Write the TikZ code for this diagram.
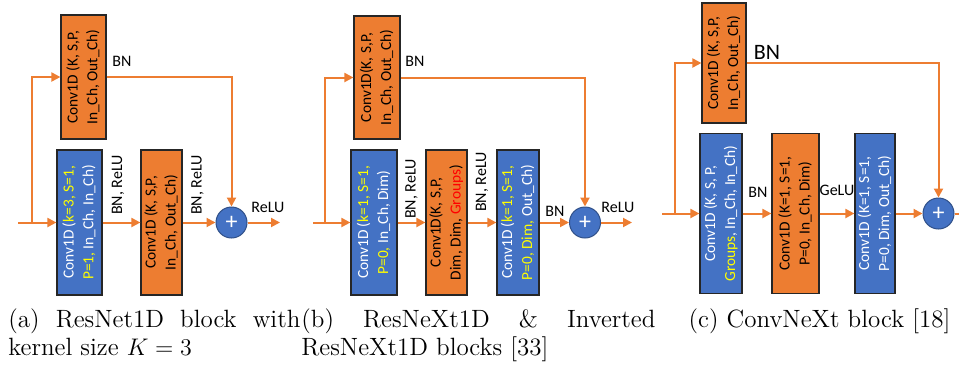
\documentclass[tikz,border=0pt]{standalone}
\usepackage{fontspec}
\usepackage{graphicx}
\usetikzlibrary{arrows.meta,positioning}
\newfontfamily\calib{Carlito}
\definecolor{orng}{HTML}{ED7D31}
\definecolor{blu}{HTML}{4472C4}
\definecolor{yel}{HTML}{FFFF00}
\newcommand{\yl}[1]{\textcolor{yel}{#1}}
\newcommand{\vtxt}[2]{\rotatebox{90}{\begin{tabular}{@{}c@{}}#1\\#2\end{tabular}}}

\begin{document}
\begin{tikzpicture}[
  x=0.5pt, y=-0.5pt,
  box/.style={draw=black!85, line width=0.6pt, inner sep=0pt, align=center,
    font=\calib\fontsize{7.7}{10}\selectfont},
  obox/.style={box, fill=orng, text=black},
  bbox/.style={box, fill=blu, text=white},
  add/.style={circle, fill=blu, draw=blu!70!black, line width=0.5pt, minimum size=15.5pt,
    inner sep=0pt, text=white, font=\calib\fontsize{12}{12}\selectfont},
  lbl/.style={inner sep=0pt, font=\calib\fontsize{8}{9.6}\selectfont},
  captxt/.style={inner sep=0pt, font=\fontsize{12.5}{14}\selectfont},
  arr/.style={-{Triangle[length=4.5pt,width=4.5pt]}, draw=orng, line width=1pt},
  ln/.style={draw=orng, line width=1pt}
]
\useasboundingbox (0,0) rectangle (959,365);

% (a) ResNet1D
\node[obox, minimum width=22.5pt, minimum height=62pt] (ta) at (83.5,77) {\vtxt{Conv1D (K, S,P,}{In\_Ch, Out\_Ch)}};
\node[bbox, minimum width=22.5pt, minimum height=72.5pt] (ba) at (79.5,222.5) {\vtxt{Conv1D (\yl{k=3, S=1,}}{\yl{P=1,} In\_Ch, In\_Ch)}};
\node[obox, minimum width=20.5pt, minimum height=72.5pt] (oa) at (161.5,222.5) {\vtxt{Conv1D (K, S,P,}{In\_Ch, Out\_Ch)}};
\node[add] (pa) at (231.5,222.5) {+};
\coordinate (ina) at (18,222.5);
\coordinate (ja) at (32,222.5);
\coordinate (outa) at (280,222.5);
\draw[arr] (ina) -- (ba.west);
\draw[arr] (ja) |- (ta.west);
\draw[arr] (ba) -- (oa);
\draw[arr] (oa) -- (pa);
\draw[arr] (ta.east) -- (ta.east -| pa) -- (pa.north);
\draw[arr] (pa) -- (outa);
\node[lbl] at (122,61) {BN};
\node[lbl, rotate=90] at (118,185) {BN, ReLU};
\node[lbl, rotate=90] at (197.5,185) {BN, ReLU};
\node[lbl] at (268,207) {ReLU};

% (b) ResNeXt1D
\node[obox, minimum width=23pt, minimum height=61.5pt] (tb) at (377,77.5) {\vtxt{Conv1D(K, S,P,}{In\_Ch, Out\_Ch)}};
\node[bbox, minimum width=23pt, minimum height=72.5pt] (b1) at (374,222.5) {\vtxt{Conv1D (\yl{k=1, S=1,}}{\yl{P=0,} In\_Ch, Dim)}};
\node[obox, minimum width=20.5pt, minimum height=72.5pt] (b2) at (446.5,222.5) {\vtxt{Conv1D(K, S,P,}{Dim, Dim, \textcolor{red}{Groups})}};
\node[bbox, minimum width=21pt, minimum height=72.5pt] (b3) at (518,222.5) {\vtxt{Conv1D (\yl{k=1, S=1,}}{\yl{P=0, Dim,} Out\_Ch)}};
\node[add] (pb) at (585,222.5) {+};
\coordinate (inb) at (313,222.5);
\coordinate (jb) at (325,222.5);
\coordinate (outb) at (632,222.5);
\draw[arr] (inb) -- (b1.west);
\draw[arr] (jb) |- (tb.west);
\draw[arr] (b1) -- (b2);
\draw[arr] (b2) -- (b3);
\draw[arr] (b3) -- (pb);
\draw[arr] (tb.east) -- (tb.east -| pb) -- (pb.north);
\draw[arr] (pb) -- (outb);
\node[lbl] at (415,61) {BN};
\node[lbl, rotate=90] at (411.5,189) {BN, ReLU};
\node[lbl, rotate=90] at (482,182) {BN, ReLU};
\node[lbl] at (555,211) {BN};
\node[lbl] at (618,207) {ReLU};

% (c) ConvNeXt
\node[obox, minimum width=22pt, minimum height=60pt] (tc) at (724,63) {\vtxt{Conv1D (K, S,P,}{In\_Ch, Out\_Ch)}};
\node[bbox, minimum width=21pt, minimum height=80pt] (c1) at (721,213.5) {\vtxt{Conv1D (K, S, P,}{\yl{Groups}, In\_Ch, In\_Ch)}};
\node[obox, minimum width=23.5pt, minimum height=80pt] (c2) at (795.5,213.5) {\vtxt{Conv1D (K=1, S=1,}{P=0, In\_Ch, Dim)}};
\node[bbox, minimum width=20pt, minimum height=80pt] (c3) at (875,213.5) {\vtxt{Conv1D (K=1, S=1,}{P=0, Dim, Out\_Ch)}};
\node[add] (pc) at (938.5,213.5) {+};
\coordinate (inc) at (662,213.5);
\coordinate (jc) at (675,213.5);
\coordinate (outc) at (959,213.5);
\draw[arr] (inc) -- (c1.west);
\draw[arr] (jc) |- (tc.west);
\draw[arr] (c1) -- (c2);
\draw[arr] (c2) -- (c3);
\draw[arr] (c3) -- (pc);
\draw[arr] (tc.east) -- (tc.east -| pc) -- (pc.north);
\draw[ln] (pc) -- (outc);
\node[lbl, font=\calib\fontsize{11}{12}\selectfont] at (767,52) {BN};
\node[lbl] at (758,192) {BN};
\node[lbl] at (837,190) {GeLU};

% captions
\node[captxt, text width=146pt, align=justify, anchor=north west] (capa) at (8,308)
  {(a) ResNet1D block with\linebreak kernel size $K=3$};
\node[captxt, text width=177pt, align=justify, anchor=north west] (capb) at (301,308)
  {(b) ResNeXt1D \& Inverted\linebreak ResNeXt1D blocks [33]};
\node[captxt, anchor=base] (capc) at (819.5,327) {(c) ConvNeXt block [18]};
\end{tikzpicture}
\end{document}
